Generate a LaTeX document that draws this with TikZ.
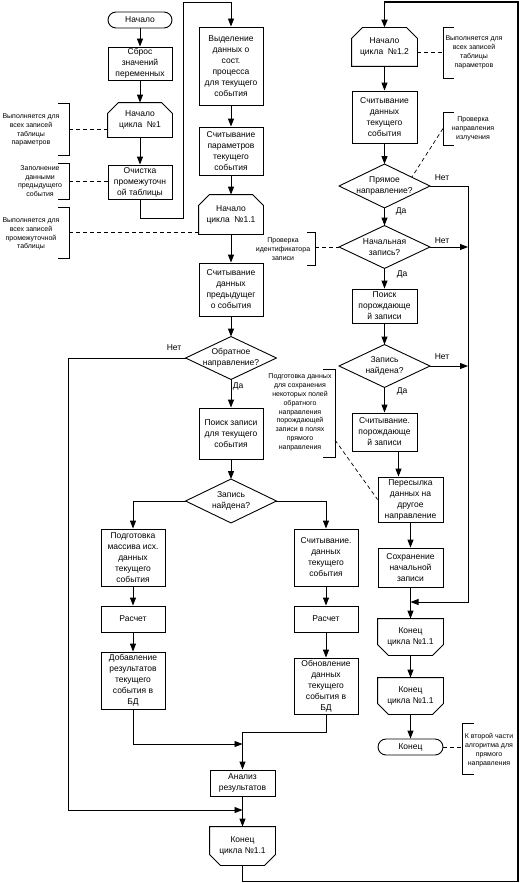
\documentclass[tikz,border=0pt]{standalone}
\usepackage{fontspec}
\setmainfont{Liberation Sans}
\usetikzlibrary{arrows.meta}
\usetikzlibrary{calc}

\tikzset{
  box/.style={draw, line width=0.9pt, minimum width=64pt, align=center, inner sep=1pt, font=\fontsize{8.5}{11}\selectfont},
  term/.style={box, rounded corners=8pt, minimum height=16pt},
  loopb/.style={box, draw=none},
  dec/.style={box, draw=none, minimum width=90pt, minimum height=42pt, inner sep=0pt},
  note/.style={align=center, inner sep=0pt, font=\fontsize{7}{8.8}\selectfont},
  lbl/.style={inner sep=0pt, font=\fontsize{8.5}{10}\selectfont},
  ln/.style={line width=0.9pt},
  arr/.style={line width=0.9pt, -{Triangle[length=8pt,width=6pt]}},
  brk/.style={line width=0.6pt},
  dsh/.style={line width=0.7pt, dash pattern=on 4pt off 3pt},
}

\begin{document}
\begin{tikzpicture}[x=1pt, y=-1pt]
\useasboundingbox (0,0) rectangle (521,883);

% first column
\node [term] (start) at (140,20) {Начало};
\node [box, minimum height=33pt] (reset) at (140,63.5) {Сброс\\значений\\переменных};
\node [loopb, minimum height=34pt] (c1) at (140,120) {Начало\\цикла \ №1};
\node [box, minimum height=34pt] (clear) at (140,182) {Очистка\\промежуточн\\ой таблицы};

% second column
\node [box, minimum height=78pt] (sel) at (231,66) {Выделение\\данных о\\сост.\\процесса\\для текущего\\события};
\node [box, minimum height=48pt] (rpar) at (231,151) {Считывание\\параметров\\текущего\\события};
\node [loopb, minimum height=39pt] (c11) at (231,214.5) {Начало\\цикла \ №1.1};
\node [box, minimum height=53pt] (rprev) at (231,289.5) {Считывание\\данных\\предыдущег\\о события};
\node [dec] (dback) at (231,358) {Обратное\\направление?};
\node [box, minimum height=51pt] (find) at (231,433.5) {Поиск записи\\для текущего\\события};
\node [dec, minimum height=43pt] (dfound) at (231,501) {Запись\\найдена?};
\node [box, minimum height=57pt] (prep) at (133,557.5) {Подготовка\\массива исх.\\данных\\текущего\\события};
\node [box, minimum height=26pt] (calcl) at (133,619) {Расчет};
\node [box, minimum height=57pt] (addl) at (133,680.5) {Добавление\\результатов\\текущего\\события в\\БД};
\node [box, minimum height=57pt] (readr) at (326,557.5) {Считывание.\\данных\\текущего\\события};
\node [box, minimum height=26pt] (calcr) at (326,619) {Расчет};
\node [box, minimum height=56pt] (updr) at (326,686) {Обновление\\данных\\текущего\\события в\\БД};
\node [box, minimum width=65pt, minimum height=26pt] (anal) at (242.5,783) {Анализ\\результатов};
\node [loopb, minimum width=65pt, minimum height=38pt] (endl) at (242.5,846) {Конец\\цикла №1.1};

% third column
\node [loopb, minimum width=65pt, minimum height=38pt] (c12) at (384.5,47) {Начало\\цикла \ №1.2};
\node [box, minimum width=65pt, minimum height=52pt] (rcur) at (384.5,117) {Считывание\\данных\\текущего\\события};
\node [dec, minimum height=43pt] (ddir) at (384.5,186) {Прямое\\направление?};
\node [dec] (dinit) at (384.5,247) {Начальная\\запись?};
\node [box, minimum width=65pt, minimum height=34pt] (fpar) at (384.5,306) {Поиск\\порождающе\\й записи};
\node [dec] (dpf) at (384.5,366) {Запись\\найдена?};
\node [box, minimum width=65pt, minimum height=38pt] (rpar2) at (384.5,432) {Считывание.\\порождающе\\й записи};
\node [box, minimum width=65pt, minimum height=45pt] (fwd) at (410.5,499.5) {Пересылка\\данных на\\другое\\направление};
\node [box, minimum width=65pt, minimum height=39pt] (save) at (410.5,567.5) {Сохранение\\начальной\\записи};
\node [loopb, minimum width=65pt, minimum height=36pt] (endr1) at (410.5,637) {Конец\\цикла №1.1};
\node [loopb, minimum width=65pt, minimum height=36pt] (endr2) at (410.5,696) {Конец\\цикла №1.1};
\node [term, minimum width=65pt] (fin) at (410.5,747) {Конец};

% loop shapes and decisions
\foreach \n in {c1,c11,c12}
  \draw[ln] ($(\n.north west)+(0,11)$) -- ($(\n.north west)+(11,0)$) -- ($(\n.north east)+(-11,0)$) -- ($(\n.north east)+(0,11)$) -- (\n.south east) -- (\n.south west) -- cycle;
\foreach \n in {endl,endr1,endr2}
  \draw[ln] (\n.north west) -- (\n.north east) -- ($(\n.south east)+(0,-11)$) -- ($(\n.south east)+(-11,0)$) -- ($(\n.south west)+(11,0)$) -- ($(\n.south west)+(0,-11)$) -- cycle;
\foreach \n in {dback,dfound,ddir,dinit,dpf}
  \draw[ln] (\n.west) -- (\n.north) -- (\n.east) -- (\n.south) -- cycle;

% arrows
\draw[arr] (start) -- (reset);
\draw[arr] (reset) -- (c1);
\draw[arr] (c1) -- (clear);
\coordinate (up1) at (183,2);
\draw[arr] (clear.south) -- ++(0,19) -| (up1) -| (sel.north);
\draw[arr] (sel) -- (rpar);
\draw[arr] (rpar) -- (c11);
\draw[arr] (c11) -- (rprev);
\draw[arr] (rprev) -- (dback.north);
\draw[arr] (dback.south) -- (find);
\draw[arr] (find) -- (dfound.north);
\draw[arr] (dfound.west) -| (prep.north);
\draw[arr] (dfound.east) -| (readr.north);
\draw[arr] (prep) -- (calcl);
\draw[arr] (calcl) -- (addl);
\draw[arr] (readr) -- (calcr);
\draw[arr] (calcr) -- (updr);
\coordinate (ma) at (242.5,744);
\coordinate (mb) at (242.5,810);
\draw[arr] (addl.south) |- (ma);
\draw[arr] (updr.south) -- ++(0,18) -| (anal.north);
\draw[arr] (dback.west) -- ++(-117,0) |- (mb);
\draw[arr] (anal) -- (endl);
\coordinate (up2) at (518,2);
\draw[arr, line width=1.8pt] (endl.south) -- ++(0,16) -| (up2) -| (c12.north);

\draw[arr] (c12) -- (rcur);
\draw[arr] (rcur) -- (ddir.north);
\draw[arr] (ddir.south) -- (dinit.north);
\draw[arr] (dinit.south) -- (fpar);
\draw[arr] (fpar) -- (dpf.north);
\draw[arr] (dpf.south) -- (rpar2);
\draw[arr] ([xshift=14pt]rpar2.south) -- ([xshift=-12pt]fwd.north);
\draw[arr] (fwd) -- (save);
\draw[arr] (save) -- (endr1);
\draw[arr] (endr1) -- (endr2);
\draw[arr] (endr2) -- (fin);
\coordinate (mr) at (410.5,602);
\coordinate (nr) at (468,602);
\draw[arr] (ddir.east) -| (nr) -- (mr);
\draw[arr] (dinit.east) -- (dinit.east -| nr);
\draw[arr] (dpf.east) -- (dpf.east -| nr);

% yes / no
\node [lbl] (no1) at (174,348) {Нет};
\node [lbl] (yes1) at (238,386) {Да};
\node [lbl] (no2) at (442,178) {Нет};
\node [lbl] (yes2) at (401,211) {Да};
\node [lbl] (no3) at (442,241) {Нет};
\node [lbl] (yes3) at (402,274) {Да};
\node [lbl] (no4) at (442,357) {Нет};
\node [lbl] (yes4) at (402,391) {Да};

% comments
\node [note] (n1) at (31,130) {Выполняется для\\всех записей\\таблицы\\параметров};
\coordinate (b1) at (69,129);
\draw[brk] (b1) ++(-11,-26) -- ++(11,0) -- ++(0,52) -- ++(-11,0);
\draw[dsh] (b1) -- (b1 -| c1.west);

\node [note] (n2) at (40,181) {Заполнение\\данными\\предыдущего\\события};
\coordinate (b2) at (69,181);
\draw[brk] (b2) ++(-11,-18) -- ++(11,0) -- ++(0,36) -- ++(-11,0);
\draw[dsh] (b2) -- (b2 -| clear.west);

\node [note] (n3) at (31,234) {Выполняется для\\всех записей\\промежуточной\\таблицы};
\coordinate (b3) at (69,232.5);
\draw[brk] (b3) ++(-11,-25.5) -- ++(11,0) -- ++(0,51) -- ++(-11,0);
\draw[dsh] (b3) -- (b3 -| c11.west);

\node [note] (n4) at (474,52.5) {Выполняется для\\всех записей\\таблицы\\параметров};
\coordinate (b4) at (443,52.5);
\draw[brk] (b4) ++(11,-25.5) -- ++(-11,0) -- ++(0,51) -- ++(11,0);
\draw[dsh] (b4 -| c12.east) -- (b4);

\node [note] (n5) at (473,129) {Проверка\\направления\\излучения};
\coordinate (b5) at (443,128.5);
\draw[brk] (b5) ++(11,-16.5) -- ++(-11,0) -- ++(0,33) -- ++(11,0);
\draw[dsh] (b5) -- ($(ddir.north)!0.6!(ddir.east)$);

\node [note] (n6) at (283,249) {Проверка\\идентификатора\\записи};
\coordinate (b6) at (315,247);
\draw[brk] (b6) ++(-8,-15) -- ++(8,0) -- ++(0,33) -- ++(-8,0);
\draw[dsh] (b6) -- (dinit.west);

\node [note] (n7) at (300,412.5) {Подготовка данных\\для сохранения\\некоторых полей\\обратного\\направления\\порождающей\\записи в полях\\прямого\\направления};
\coordinate (b7) at (335,413);
\draw[brk] (b7) ++(-12,-44) -- ++(12,0) -- ++(0,88) -- ++(-12,0);
\draw[dsh] ($(b7)+(0,27)$) -- (fwd.west);

\node [note] (n8) at (489,750) {К второй части\\алгоритма для\\прямого\\направления};
\coordinate (b8) at (462,748.5);
\draw[brk] (b8) ++(12,-25.5) -- ++(-12,0) -- ++(0,51) -- ++(12,0);
\draw[dsh] (fin.east) -- (fin.east -| b8);
\end{tikzpicture}
\end{document}
